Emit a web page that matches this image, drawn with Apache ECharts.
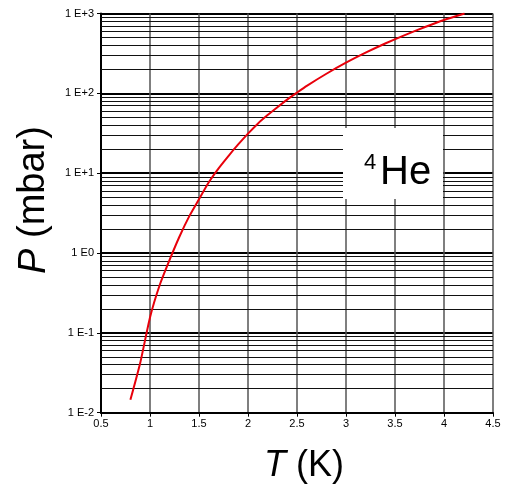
<!DOCTYPE html>
<html>
<head>
<meta charset="utf-8">
<script src="https://cdn.jsdelivr.net/npm/echarts@6/dist/echarts.min.js"></script>
<style>html,body{margin:0;padding:0;background:#fff;}#c{width:508px;height:487px;}</style>
</head>
<body>
<div id="c"></div>
<script>
// Temperature (K)
var temperatures = [0.8, 0.9, 1.0, 1.1, 1.2, 1.3, 1.4, 1.5, 1.6, 1.7, 1.8, 1.9, 2.0, 2.1, 2.2, 2.3, 2.4, 2.5, 2.6, 2.8, 3.0, 3.2, 3.4, 3.6, 3.8, 4.0, 4.21];
// Vapour pressure of 4He (mbar)
var pressures = [0.0145, 0.042, 0.156, 0.40, 0.82, 1.60, 2.88, 4.72, 7.69, 11.5, 16.4, 22.9, 31.3, 41.7, 53.4, 67.0, 83.4, 102, 124, 176, 242, 323, 421, 537, 672, 828, 1000];
// Minor grid values (log decades)
var minorValues = [];
var decades = [0.01, 0.1, 1, 10, 100];
decades.forEach(function (d) { for (var k = 2; k <= 9; k++) minorValues.push(+(d * k).toPrecision(3)); });

var font = "'Liberation Sans', Arial, sans-serif";
var chart = echarts.init(document.getElementById('c'), null, {renderer: 'canvas'});
chart.setOption({
  animation: false,
  backgroundColor: '#fff',
  grid: {left: 101, right: 15, top: 13.5, bottom: 74.3, containLabel: false},
  xAxis: {
    type: 'value', min: 0.5, max: 4.5, interval: 0.5,
    axisLine: {show: true, onZero: false, lineStyle: {color: '#000', width: 2}},
    axisTick: {show: true, length: 4, lineStyle: {color: '#000', width: 1}},
    axisLabel: {color: '#000', fontSize: 11, fontFamily: font, margin: 6},
    splitLine: {show: true, lineStyle: {color: '#555', width: 1.5}}
  },
  yAxis: {
    type: 'log', logBase: 10, min: 0.01, max: 1000,
    axisLine: {show: true, lineStyle: {color: '#000', width: 2}},
    axisTick: {show: true, length: 4, lineStyle: {color: '#000', width: 1}},
    axisLabel: {
      color: '#000', fontSize: 11, fontFamily: font, margin: 7,
      formatter: function (v) {
        var e = Math.round(Math.log10(v));
        return '1 E' + (e > 0 ? '+' + e : e);
      }
    },
    splitLine: {show: true, lineStyle: {color: '#000', width: 2}}
  },
  series: [
    {
      type: 'line', data: [], z: 1, silent: true,
      markLine: {
        silent: true, symbol: ['none', 'none'], label: {show: false},
        lineStyle: {color: '#111', width: 1, type: 'solid'},
        animation: false,
        data: minorValues.map(function (v) { return {yAxis: v}; })
      }
    },
    {
      type: 'line', z: 5,
      data: temperatures.map(function (t, i) { return [t, pressures[i]]; }),
      showSymbol: false, smooth: 0.2,
      lineStyle: {color: '#e8000b', width: 2}
    }
  ],
  graphic: [
    {type: 'rect', z: 10, shape: {x: 343, y: 128, width: 100, height: 71}, style: {fill: '#fff'}},
    {type: 'text', z: 11, x: 380, y: 173, style: {text: 'He', fontSize: 40, fontFamily: font, fill: '#000', align: 'left', verticalAlign: 'middle'}},
    {type: 'text', z: 11, x: 364, y: 163, style: {text: '4', fontSize: 22, fontFamily: font, fill: '#000', align: 'left', verticalAlign: 'middle'}},
    {type: 'text', z: 11, x: 304, y: 466, style: {
      text: '{i|T} (K)', fontSize: 36, fontFamily: font, fill: '#000', align: 'center', verticalAlign: 'middle',
      rich: {i: {fontStyle: 'italic', fontSize: 36, fontFamily: font, fill: '#000'}}
    }},
    {type: 'text', z: 11, x: 34, y: 200, rotation: Math.PI / 2, style: {
      text: '{i|P} (mbar)', fontSize: 38, fontFamily: font, fill: '#000', align: 'center', verticalAlign: 'middle',
      rich: {i: {fontStyle: 'italic', fontSize: 38, fontFamily: font, fill: '#000'}}
    }}
  ]
});
</script>
</body>
</html>
